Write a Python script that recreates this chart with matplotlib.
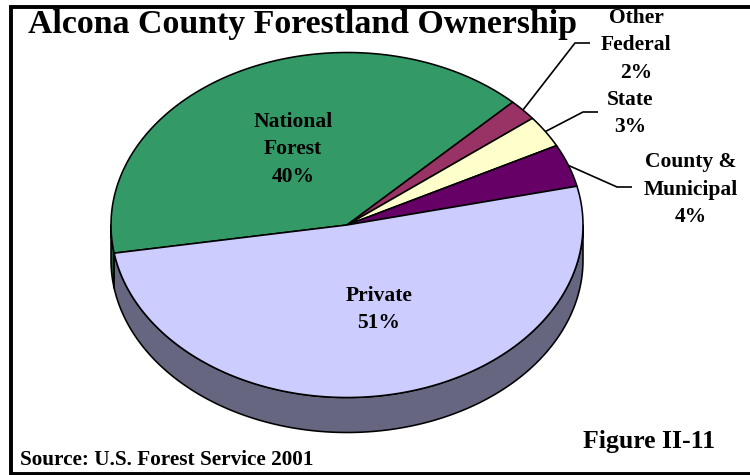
import numpy as np
import matplotlib
matplotlib.use("Agg")
import matplotlib.pyplot as plt
from matplotlib.patches import Polygon

# ---- data -------------------------------------------------------------
categories = ["National Forest", "Other Federal", "State", "County & Municipal", "Private"]
label_names = [["National", "Forest"], ["Other", "Federal"], ["State"], ["County &", "Municipal"], ["Private"]]
shares = [40, 2, 3, 4, 51]
top_colors = ["#339966", "#993366", "#FFFFCC", "#660066", "#CCCCFF"]
side_colors = ["#1A4D33", "#4D1A33", "#808066", "#330033", "#666680"]

title = "Alcona County Forestland Ownership"
source = "Source: U.S. Forest Service 2001"
figure_no = "Figure II-11"

# ---- layout (pixel coordinates, y downward) ---------------------------
W, H = 750, 475
CX, CY, RX, RY, DEPTH = 347.0, 225.0, 236.0, 172.5, 35.0
START = 189.4          # angle where the first slice begins; slices run clockwise

# label anchors: centre x, first baseline y
label_pos = [(293, 127), (636, 23), (630, 105), (691, 167), (379, 301)]
line_step = 27.5
# leader lines: elbow and end point (None = label inside slice)
leaders = [None, [(575, 43), (590, 43)], [(583, 112), (598, 112)],
           [(617, 187), (632, 187)], None]

SERIF = ["Liberation Serif", "DejaVu Serif"]
EDGE_LW = 1.15

fig = plt.figure(figsize=(W / 100, H / 100), dpi=100)
ax = fig.add_axes([0, 0, 1, 1])
ax.set_xlim(0, W)
ax.set_ylim(H, 0)
ax.axis("off")


def rim(t, drop=0.0):
    r = np.radians(t)
    return CX + RX * np.cos(r), CY - RY * np.sin(r) + drop


def arc(t0, t1, drop=0.0, n=200):
    ts = np.linspace(t0, t1, n)
    xs, ys = rim(ts, drop)
    return np.column_stack([xs, ys])


# slice boundaries (degrees), clockwise from START
total = float(sum(shares))
edges = START - np.concatenate([[0], np.cumsum(shares)]) * 360.0 / total

# side wall: only the front half (angles -180..0) is visible
for i in range(len(shares)):
    hi, lo = edges[i], edges[i + 1]
    for k in (-2, -1, 0, 1):
        a_hi, a_lo = hi + 360 * k, lo + 360 * k
        s_hi, s_lo = min(a_hi, 0.0), max(a_lo, -180.0)
        if s_hi > s_lo:
            top = arc(s_hi, s_lo)
            bot = arc(s_lo, s_hi, DEPTH)
            ax.add_patch(Polygon(np.vstack([top, bot]), closed=True,
                                 facecolor=side_colors[i], edgecolor="black",
                                 linewidth=EDGE_LW, joinstyle="round", zorder=2))

# top face
for i in range(len(shares)):
    pts = np.vstack([[CX, CY], arc(edges[i], edges[i + 1])])
    ax.add_patch(Polygon(pts, closed=True, facecolor=top_colors[i],
                         edgecolor="black", linewidth=EDGE_LW,
                         joinstyle="round", zorder=3))

# labels and leader lines
for i in range(len(shares)):
    lines = label_names[i] + [f"{shares[i]}%"]
    x0, y0 = label_pos[i]
    for j, s in enumerate(lines):
        ax.text(x0, y0 + j * line_step, s, ha="center", va="baseline",
                fontsize=15.5, fontweight="bold", family=SERIF, zorder=5)
    if leaders[i] is not None:
        mid = 0.5 * (edges[i] + edges[i + 1])
        sx, sy = rim(mid)
        xs = [sx] + [p[0] for p in leaders[i]]
        ys = [sy] + [p[1] for p in leaders[i]]
        ax.plot(xs, ys, color="black", lw=1.2, zorder=4, solid_capstyle="butt")

# title and footers
ax.text(28, 33, title, ha="left", va="baseline", fontsize=24.4,
        fontweight="bold", family=SERIF, zorder=5)
ax.text(20, 465, source, ha="left", va="baseline", fontsize=15.3,
        fontweight="bold", family=SERIF, zorder=5)
ax.text(583, 448, figure_no, ha="left", va="baseline", fontsize=18.5,
        fontweight="bold", family=SERIF, zorder=5)

# frame
ax.plot([W + 5, 11, 11, W + 5], [6.5, 6.5, 473.5, 473.5], color="black",
        lw=2.8, solid_joinstyle="miter", clip_on=False, zorder=6)

fig.savefig("out.png", dpi=100)
